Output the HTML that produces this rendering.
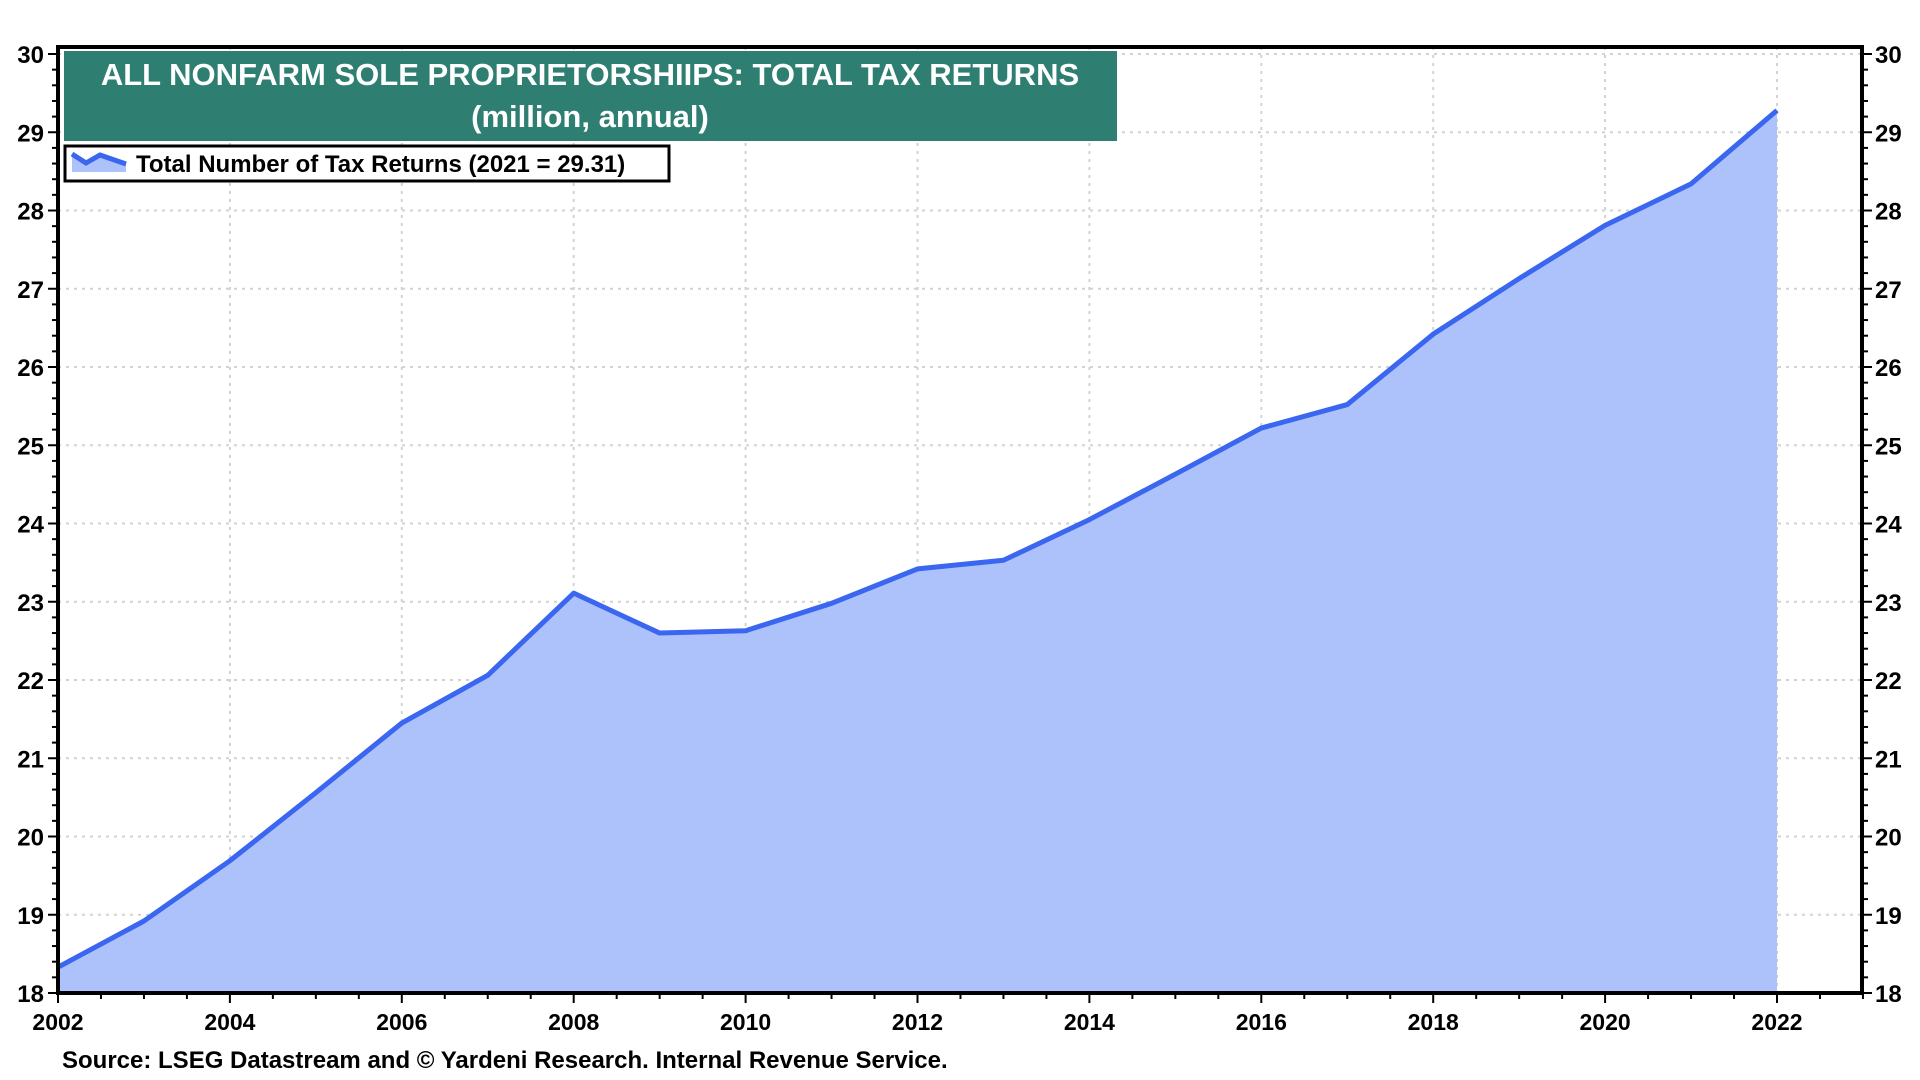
<!DOCTYPE html>
<html><head><meta charset="utf-8"><style>
body{margin:0;background:#fff;width:1920px;height:1080px;overflow:hidden}
svg{display:block;font-family:"Liberation Sans",Arial,sans-serif;font-weight:bold}
</style></head><body>
<svg id="chart" width="1920" height="1080"></svg>
<script>
const years=[2002,2003,2004,2005,2006,2007,2008,2009,2010,2011,2012,2013,2014,2015,2016,2017,2018,2019,2020,2021,2022];
const values=[18.33,18.92,19.69,20.56,21.45,22.06,23.11,22.6,22.63,22.98,23.42,23.53,24.05,24.63,25.22,25.52,26.42,27.13,27.81,28.34,29.28];
const yTicks=[18,19,20,21,22,23,24,25,26,27,28,29,30];
const xTicks=[2002,2004,2006,2008,2010,2012,2014,2016,2018,2020,2022];
const L=58,R=1862,T=47,B=993;
const x=v=>58+(v-2002)*(1777-58)/20;
const y=v=>993-(v-18)*(993-54)/12;
const svg=document.getElementById('chart');
const NS='http://www.w3.org/2000/svg';
function mk(tag,attrs,parent){const e=document.createElementNS(NS,tag);for(const k in attrs)e.setAttribute(k,attrs[k]);(parent||svg).appendChild(e);return e;}
for(const t of yTicks){const g=mk('line',{x1:L,x2:R,y1:y(t),y2:y(t),stroke:'#d2d2d2','stroke-width':2,'stroke-dasharray':'3,5'});

}
for(const t of xTicks){const g=mk('line',{x1:x(t),x2:x(t),y1:T,y2:B,stroke:'#d2d2d2','stroke-width':2,'stroke-dasharray':'3,5'});

}
let pts=years.map((yr,i)=>x(yr)+','+y(values[i])).join(' ');
const area=mk('polygon',{points:x(years[0])+','+B+' '+pts+' '+x(years[years.length-1])+','+B,fill:'#adc1fb'});


const line=mk('polyline',{points:pts,fill:'none',stroke:'#3a66f0','stroke-width':5,'stroke-linejoin':'round'});


const fr=mk('rect',{x:L,y:T,width:R-L,height:B-T,fill:'none',stroke:'#000','stroke-width':4});


for(let v=18;v<=30.001;v+=0.2){const major=Math.abs(v-Math.round(v))<0.01;const len=major?10:6;
mk('line',{x1:L-len,x2:L,y1:y(v),y2:y(v),stroke:'#000','stroke-width':2});
mk('line',{x1:R,x2:R+len,y1:y(v),y2:y(v),stroke:'#000','stroke-width':2});}
for(const t of yTicks){
const a=mk('text',{x:44,y:y(t)+9,'text-anchor':'end','font-size':24});a.textContent=t;


const b=mk('text',{x:1875,y:y(t)+9,'font-size':24});b.textContent=t;

}
for(let v=2002;v<=2023.001;v+=0.5){const major=Math.abs(v-Math.round(v))<0.01&&Math.round(v)%2===0;
mk('line',{x1:x(v),x2:x(v),y1:B,y2:B+(major?10:6),stroke:'#000','stroke-width':2});}
for(const t of xTicks){const a=mk('text',{x:x(t),y:1030,'text-anchor':'middle','font-size':23});a.textContent=t;

}
</script>
<svg style="position:absolute;left:0;top:0" width="1920" height="1080">
<g>
<rect x="64" y="51" width="1053" height="90" fill="#2e7f72"/>
<text x="590" y="85" text-anchor="middle" fill="#fff" font-size="31" font-family="Liberation Sans,Arial,sans-serif" font-weight="bold">ALL NONFARM SOLE PROPRIETORSHIIPS: TOTAL TAX RETURNS</text>
<text x="590" y="127" text-anchor="middle" fill="#fff" font-size="31" font-family="Liberation Sans,Arial,sans-serif" font-weight="bold">(million, annual)</text>
</g>
<g>
<rect x="65" y="146" width="604" height="35" fill="#fff" stroke="#000" stroke-width="3"/>
<polygon points="72,154 86,163 100,155 126,164 126,172 72,172" fill="#adc1fb"/>
<polyline points="72,154 86,163 100,155 126,164" fill="none" stroke="#3a66f0" stroke-width="5"/>
<text x="136" y="172" font-size="24" font-family="Liberation Sans,Arial,sans-serif" font-weight="bold">Total Number of Tax Returns (2021 = 29.31)</text>
</g>
<text x="62" y="1068" font-size="24" font-family="Liberation Sans,Arial,sans-serif" font-weight="bold">Source: LSEG Datastream and © Yardeni Research. Internal Revenue Service.</text>
</svg>
</body></html>
